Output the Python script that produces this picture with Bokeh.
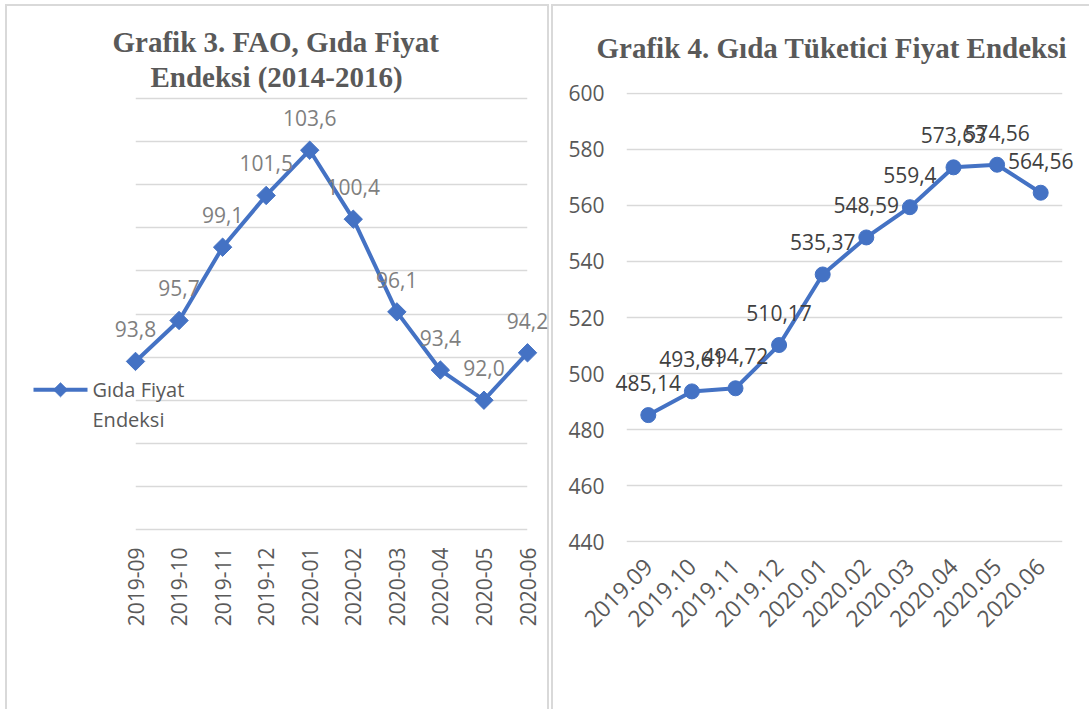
import math
from bokeh.plotting import figure
from bokeh.models import (FixedTicker, Range1d, FactorRange, ColumnDataSource, Title,
                          InlineStyleSheet)
from bokeh.layouts import row
from bokeh.embed import file_html
from bokeh.resources import INLINE
from bokeh.core.properties import value

# ---------------- data ----------------
fao_months = ["2019-09", "2019-10", "2019-11", "2019-12", "2020-01",
              "2020-02", "2020-03", "2020-04", "2020-05", "2020-06"]
fao_values = [93.8, 95.7, 99.1, 101.5, 103.6, 100.4, 96.1, 93.4, 92.0, 94.2]
fao_ticks = [86, 88, 90, 92, 94, 96, 98, 100, 102, 104, 106]

cpi_months = ["2019.09", "2019.10", "2019.11", "2019.12", "2020.01",
              "2020.02", "2020.03", "2020.04", "2020.05", "2020.06"]
cpi_values = [485.14, 493.61, 494.72, 510.17, 535.37, 548.59, 559.4, 573.63, 574.56, 564.56]
cpi_ticks = [440, 460, 480, 500, 520, 540, 560, 580, 600]

title_left_1 = "Grafik 3. FAO, Gıda Fiyat"
title_left_2 = "Endeksi (2014-2016)"
title_right = "Grafik 4. Gıda Tüketici Fiyat Endeksi"
legend_label = "Gıda Fiyat\nEndeksi"

# ---------------- styles / layout (pixels) ----------------
FONT = "Open Sans"
SERIF = "Liberation Serif"
BLUE = "#4472C4"
GRID = "#d9d9d9"
AXIS_TXT = "#595959"
H = 709
FT, FH = 91, 451            # common frame top / height (row aligns frames)

def fmt(v):
    return str(v).replace(".", ",")

def gline(x, y, w, h):
    return f"linear-gradient({GRID},{GRID}) {x}px {y}px / {w}px {h}px no-repeat"

# ---------------- left chart ----------------
W1 = 550
FL1, FW1 = 135, 392
TOP1_PX, BOT1_PX = 97, 529          # pixel rows of the first / last gridline
px_per_unit1 = (BOT1_PX - TOP1_PX) / (fao_ticks[-1] - fao_ticks[0])
y1_hi = fao_ticks[-1] + (TOP1_PX - FT) / px_per_unit1
y1_lo = fao_ticks[0] - (FT + FH - BOT1_PX) / px_per_unit1
x1_lo, x1_hi = 0, len(fao_months) - 1

p1 = figure(width=W1, height=H, output_backend="svg", toolbar_location=None, title=None,
            x_range=Range1d(x1_lo, x1_hi), y_range=Range1d(y1_lo, y1_hi),
            min_border_left=FL1, min_border_right=W1 - FL1 - FW1,
            min_border_top=FT, min_border_bottom=H - FT - FH)
p1.outline_line_color = None
p1.background_fill_color = None
p1.border_fill_color = None

def px2x(px):
    return x1_lo + (px - FL1) * (x1_hi - x1_lo) / FW1

def py2y(py):
    return y1_hi - (py - FT) * (y1_hi - y1_lo) / FH

src1 = ColumnDataSource(dict(x=list(range(len(fao_months))), y=fao_values,
                             lab=[fmt(v) for v in fao_values]))
p1.line("x", "y", source=src1, line_color=BLUE, line_width=4, level="overlay")
p1.scatter("x", "y", source=src1, marker="square", angle=math.pi / 4, size=13,
           fill_color=BLUE, line_color=BLUE, level="overlay")
p1.text("x", "y", text="lab", source=src1, y_offset=-32, level="overlay",
        text_align="center", text_baseline="middle",
        text_font=value(FONT), text_font_size="21px", text_color="#7f7f7f")

# legend (drawn outside the frame, like the original)
ly = py2y(389)
p1.line([px2x(33), px2x(87)], [ly, ly], line_color=BLUE, line_width=4, level="overlay")
p1.patch([px2x(53), px2x(60), px2x(67), px2x(60)], [ly, py2y(382), ly, py2y(396)],
         fill_color=BLUE, line_color=BLUE, level="overlay")
p1.text([px2x(92)], [py2y(375)], text=[legend_label], level="overlay",
        text_align="left", text_baseline="top", text_line_height=1.1,
        text_font=value(FONT), text_font_size="20px", text_color=AXIS_TXT)

p1.yaxis.visible = False
p1.xgrid.visible = False
p1.ygrid.ticker = FixedTicker(ticks=fao_ticks)
p1.ygrid.grid_line_color = GRID
p1.ygrid.grid_line_width = 1.5

ax1 = p1.xaxis[0]
ax1.ticker = FixedTicker(ticks=list(range(len(fao_months))))
ax1.major_label_overrides = {i: m for i, m in enumerate(fao_months)}
ax1.major_label_orientation = math.pi / 2
ax1.axis_line_color = None
ax1.major_tick_line_color = None
ax1.minor_tick_line_color = None
ax1.major_tick_out = 0
ax1.major_tick_in = 0
ax1.major_label_standoff = 5
ax1.major_label_text_font = FONT
ax1.major_label_text_font_size = "21px"
ax1.major_label_text_color = AXIS_TXT

def serif_title(text, offset, standoff):
    return Title(text=text, align="left", offset=offset, standoff=standoff,
                 text_font=SERIF, text_font_style="bold", text_font_size="29px",
                 text_line_height=1.0, text_color=AXIS_TXT)

p1.add_layout(serif_title(title_left_2, 15, 0), "above")
p1.add_layout(serif_title(title_left_1, -23, 2), "above")

# ---------------- right chart ----------------
W2 = 1089 - W1
FL2, FW2 = 626 - W1, 436
TOP2_PX, BOT2_PX = 92, 541
px_per_unit2 = (BOT2_PX - TOP2_PX) / (cpi_ticks[-1] - cpi_ticks[0])
y2_hi = cpi_ticks[-1] + (TOP2_PX - FT) / px_per_unit2
y2_lo = cpi_ticks[0] - (FT + FH - BOT2_PX) / px_per_unit2

p2 = figure(width=W2, height=H, output_backend="svg", toolbar_location=None, title=None,
            x_range=FactorRange(factors=cpi_months), y_range=Range1d(y2_lo, y2_hi),
            min_border_left=FL2, min_border_right=W2 - FL2 - FW2,
            min_border_top=FT, min_border_bottom=H - FT - FH)
p2.outline_line_color = None
p2.background_fill_color = None
p2.border_fill_color = None

src2 = ColumnDataSource(dict(x=cpi_months, y=cpi_values, lab=[fmt(v) for v in cpi_values]))
p2.line("x", "y", source=src2, line_color=BLUE, line_width=4)
p2.scatter("x", "y", source=src2, marker="circle", size=15, fill_color=BLUE, line_color=BLUE)
p2.text("x", "y", text="lab", source=src2, y_offset=-32, level="overlay",
        text_align="center", text_baseline="middle",
        text_font=value(FONT), text_font_size="21px", text_color="#404040")

p2.xgrid.visible = False
p2.ygrid.ticker = FixedTicker(ticks=cpi_ticks)
p2.ygrid.grid_line_color = GRID
p2.ygrid.grid_line_width = 1.5

ya = p2.yaxis[0]
ya.ticker = FixedTicker(ticks=cpi_ticks)
xa = p2.xaxis[0]
xa.major_label_orientation = math.pi / 4
for ax in (ya, xa):
    ax.axis_line_color = None
    ax.major_tick_line_color = None
    ax.minor_tick_line_color = None
    ax.major_tick_out = 0
    ax.major_tick_in = 0
    ax.major_label_text_font = FONT
    ax.major_label_text_color = AXIS_TXT
ya.major_label_text_font_size = "21px"
ya.major_label_standoff = 22
xa.major_label_text_font_size = "23px"
xa.major_label_standoff = 20

p2.add_layout(Title(text=title_right, align="left", offset=-30, standoff=58,
                    text_font=SERIF, text_font_style="bold", text_font_size="29px",
                    text_color=AXIS_TXT), "above")

borders = ", ".join([gline(5, 4, 2, 800), gline(5, 4, 544, 2), gline(547, 4, 2, 800),
                     gline(551, 4, 2, 800), gline(551, 4, 600, 2)]) + ", white"
layout = row(p1, p2, stylesheets=[InlineStyleSheet(css=":host { background: %s; }" % borders)])
open("out.html", "w").write(file_html(layout, INLINE))
